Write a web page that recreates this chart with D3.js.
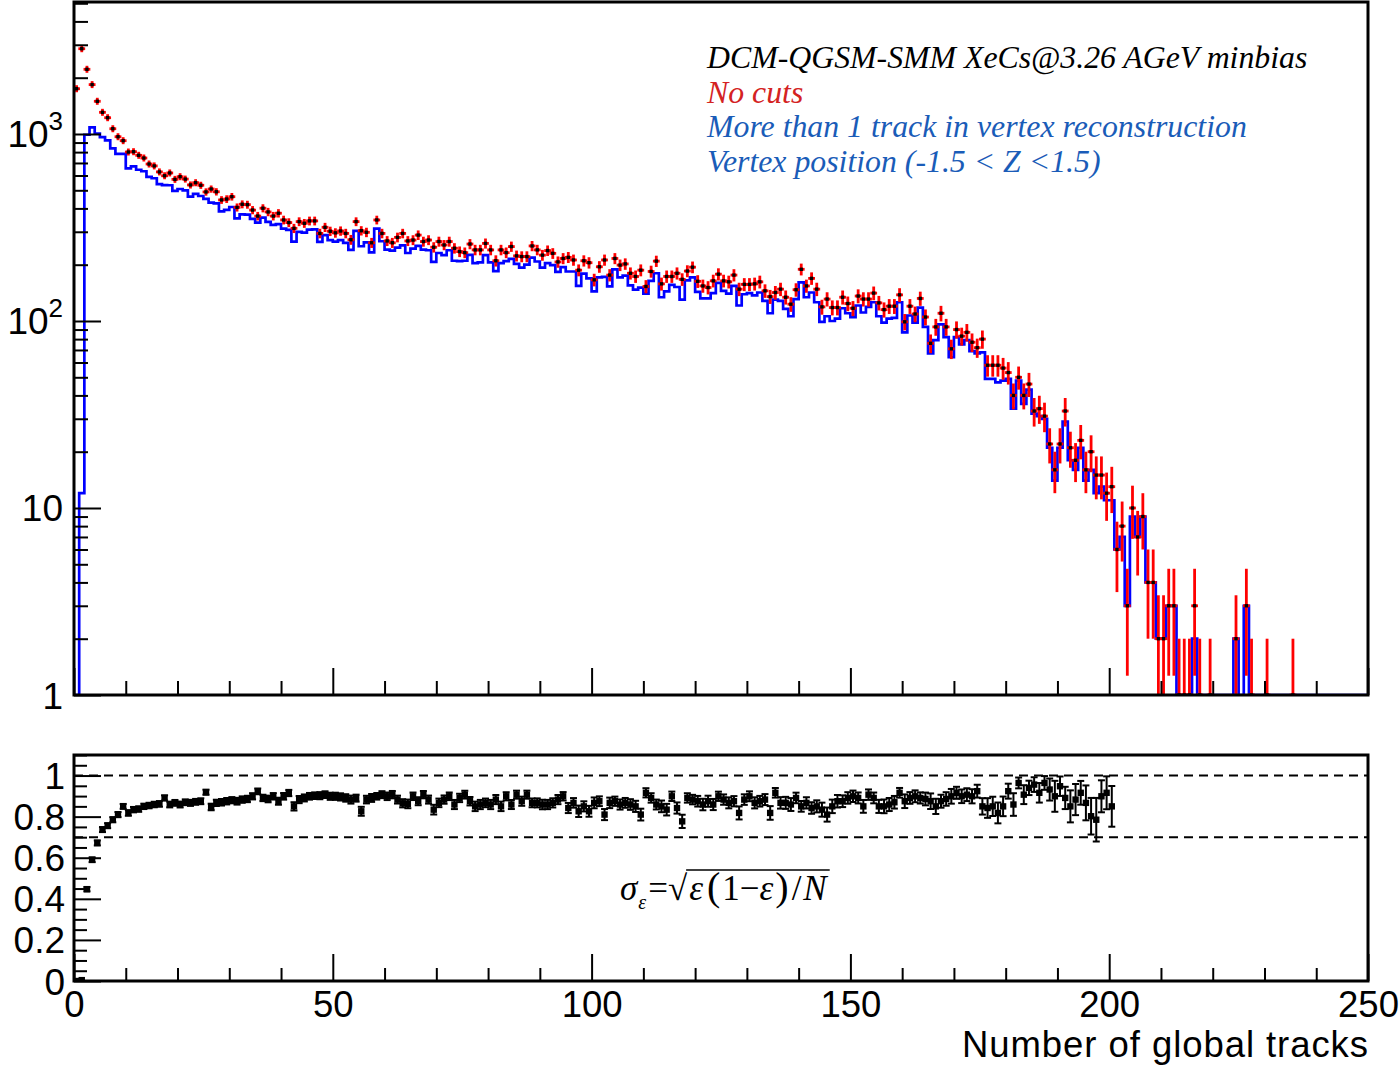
<!DOCTYPE html>
<html><head><meta charset="utf-8">
<script src="https://cdn.jsdelivr.net/npm/d3@7"></script>
<style>body{margin:0;background:#fff}svg{display:block}</style>
</head><body>
<svg id="c" width="1399" height="1066"></svg>
<script>
// ---------------- data (bins of width 1 starting at 0) ----------------
const xTickValues = [0, 50, 100, 150, 200, 250];
const xTickLabels = ["0", "50", "100", "150", "200", "250"];
const yTopMajor = [1, 10, 100, 1000];
const yTopLabels = [["1", ""], ["10", ""], ["10", "2"], ["10", "3"]];
const yBotMajor = [0, 0.2, 0.4, 0.6, 0.8, 1];
const yBotLabels = ["0", "0.2", "0.4", "0.6", "0.8", "1"];

// "No cuts" entries per bin (red points)
const noCuts = [
 1746,2858,2218,1837,1496,1306,1222,1067,967,921,
 801,804,769,744,691,675,627,598,619,572,
 591,574,534,549,532,490,508,491,444,449,
 462,405,421,419,392,364,401,383,364,377,
 347,336,313,340,333,343,343,294,317,302,
 296,303,294,272,340,304,298,262,347,294,
 268,262,280,294,268,271,288,266,271,248,
 266,255,266,245,235,232,258,240,240,260,
 240,210,240,232,250,223,221,221,252,240,
 225,238,230,207,216,219,212,187,210,205,
 166,195,212,176,216,199,202,180,173,187,
 153,184,209,158,173,173,180,167,185,194,
 163,154,151,164,178,164,162,176,148,157,
 157,158,162,145,135,142,148,134,123,147,
 189,154,169,148,119,131,118,118,134,124,
 117,136,131,131,141,125,115,120,120,138,
 99,120,109,132,105,76,93,110,93,71,
 90,83,87,77,72,80,58,58,58,56,
 53,40,50,40,46,33,34,31,22,16,
 22,33,21,18,23,16,20,15,15,12,
 13,6,8,3,10,7,9,4,4,2,
 2,3,3,1,1,1,3,1,0,1,
 0,0,0,0,2,0,3,1,0,0,
 1,0,0,0,0,1,0,0,0,0,
 0,0,0,0,0,0,0,0,0,0
];

// efficiency (lower panel) for bins 0..200
const efficiency = [
 0,0.0042,0.447,0.590,0.672,0.737,0.756,0.785,0.810,0.850,
 0.818,0.834,0.837,0.850,0.854,0.859,0.862,0.891,0.859,0.867,
 0.859,0.870,0.867,0.872,0.875,0.919,0.847,0.867,0.870,0.875,
 0.880,0.875,0.883,0.886,0.899,0.923,0.891,0.886,0.899,0.875,
 0.899,0.915,0.850,0.883,0.891,0.899,0.902,0.902,0.907,0.899,
 0.899,0.896,0.891,0.883,0.890,0.826,0.883,0.891,0.899,0.907,
 0.899,0.907,0.883,0.865,0.862,0.899,0.875,0.907,0.883,0.834,
 0.867,0.883,0.899,0.859,0.891,0.907,0.875,0.850,0.859,0.867,
 0.859,0.883,0.850,0.899,0.859,0.907,0.875,0.907,0.867,0.867,
 0.859,0.859,0.867,0.883,0.899,0.842,0.867,0.826,0.850,0.826,
 0.867,0.875,0.810,0.867,0.875,0.859,0.867,0.859,0.850,0.810,
 0.916,0.891,0.859,0.850,0.834,0.899,0.842,0.777,0.891,0.883,
 0.875,0.859,0.875,0.859,0.899,0.883,0.867,0.875,0.818,0.883,
 0.899,0.867,0.875,0.883,0.818,0.916,0.867,0.867,0.859,0.891,
 0.850,0.867,0.842,0.850,0.834,0.810,0.850,0.875,0.875,0.891,
 0.899,0.891,0.850,0.907,0.891,0.850,0.850,0.859,0.870,0.916,
 0.875,0.891,0.899,0.891,0.886,0.875,0.850,0.875,0.886,0.899,
 0.916,0.899,0.907,0.899,0.924,0.850,0.842,0.850,0.818,0.850,
 0.924,0.859,0.964,0.907,0.940,0.956,0.916,0.964,0.932,0.899,
 0.948,0.891,0.850,0.883,0.916,0.867,0.802,0.785,0.899,0.916,
 0.850
];

// events passing the cuts for bins 201..249 (blue histogram tail)
const passedTail = [
 6,7,3,9,7,9,4,4,2,2,
 3,3,0,0,0,2,0,0,0,0,
 0,0,0,2,0,3,0,0,0,0,
 0,0,0,0,0,0,0,0,0,0,
 0,0,0,0,0,0,0,0,0
];

const legendLines = [
 {text: "DCM-QGSM-SMM XeCs@3.26 AGeV minbias", color: "#000000"},
 {text: "No cuts", color: "#d42222"},
 {text: "More than 1 track in vertex reconstruction", color: "#1a5cb8"},
 {text: "Vertex position (-1.5 < Z <1.5)", color: "#1a5cb8"}
];

// ---------------- derived ----------------
const nBins = noCuts.length;
const passed = noCuts.map((n, k) => k <= 200 ? Math.round(n * efficiency[k]) : passedTail[k - 201]);

// ---------------- drawing ----------------
const svg = d3.select("#c");
const SANS = "'Liberation Sans', Arial, Helvetica, sans-serif";
const SERIF = "'Liberation Serif', 'Times New Roman', serif";

const x = d3.scaleLinear().domain([0, 250]).range([74, 1368]);
const yT = d3.scaleLog().domain([1, 5080]).range([695, 2]);
const yB = d3.scaleLinear().domain([0, 1.1]).range([981, 755]);
const yT0 = yT.range()[0];

const defs = svg.append("defs");
defs.append("clipPath").attr("id", "clipT").append("rect")
  .attr("x", x(0)).attr("y", yT.range()[1]).attr("width", x(250) - x(0)).attr("height", yT0 - yT.range()[1]);
defs.append("clipPath").attr("id", "clipB").append("rect")
  .attr("x", x(0)).attr("y", yB.range()[1]).attr("width", x(250) - x(0)).attr("height", yB.range()[0] - yB.range()[1]);

// ---- top panel: blue histogram ----
const gT = svg.append("g").attr("clip-path", "url(#clipT)");
const stepPts = [[0, 0]];
for (let k = 0; k < nBins; k++) stepPts.push([k, passed[k]]);
stepPts.push([nBins, passed[nBins - 1]]);
stepPts.push([nBins, 0]);
const yv = v => v > 0 ? yT(v) : yT0;
gT.append("path")
  .attr("d", d3.line().x(d => x(d[0])).y(d => yv(d[1])).curve(d3.curveStepAfter)(stepPts))
  .attr("fill", "none").attr("stroke", "#0000ff").attr("stroke-width", 2.7);

// ---- top panel: red points ----
const redData = noCuts.map((n, k) => ({k, n})).filter(d => d.n > 0);
const rp = gT.append("g");
rp.selectAll("line.ev").data(redData).enter().append("line")
  .attr("x1", d => x(d.k + 0.5)).attr("x2", d => x(d.k + 0.5))
  .attr("y1", d => Math.min(yT(d.n + Math.sqrt(d.n)), yT(d.n) - 3.5))
  .attr("y2", d => (d.n - Math.sqrt(d.n)) > 0 ? Math.max(yT(d.n - Math.sqrt(d.n)), yT(d.n) + 3.5) : yT0 + 2)
  .attr("stroke", "#ff0000").attr("stroke-width", 2.8);
rp.selectAll("line.eh").data(redData).enter().append("line")
  .attr("x1", d => x(d.k + 0.5) - 3.4).attr("x2", d => x(d.k + 0.5) + 3.4)
  .attr("y1", d => yT(d.n)).attr("y2", d => yT(d.n))
  .attr("stroke", "#ff0000").attr("stroke-width", 2.8);
rp.selectAll("rect").data(redData).enter().append("rect")
  .attr("x", d => x(d.k + 0.5) - 1.7).attr("y", d => yT(d.n) - 1.7)
  .attr("width", 3.4).attr("height", 3.4).attr("fill", "#000");

// ---- top panel: axes ----
function styleAxis(g) {
  g.select(".domain").remove();
  g.selectAll(".tick line").attr("stroke", "#000").attr("stroke-width", 2);
}
const topMinor = [];
[1, 10, 100, 1000].forEach(d => { for (let m = 2; m <= 9; m++) if (d * m < 5080) topMinor.push(d * m); });
svg.append("g").attr("transform", `translate(${x(0)},0)`)
  .call(d3.axisLeft(yT).tickValues(yTopMajor).tickSizeInner(-27).tickSizeOuter(0).tickFormat(""))
  .call(styleAxis);
svg.append("g").attr("transform", `translate(${x(0)},0)`)
  .call(d3.axisLeft(yT).tickValues(topMinor).tickSizeInner(-14).tickSizeOuter(0).tickFormat(""))
  .call(styleAxis);

const xMinor = d3.range(0, 251, 10).filter(v => v % 50 !== 0);
svg.append("g").attr("transform", `translate(0,${yT0})`)
  .call(d3.axisTop(x).tickValues(xTickValues).tickSizeInner(27).tickSizeOuter(0).tickFormat(""))
  .call(styleAxis);
svg.append("g").attr("transform", `translate(0,${yT0})`)
  .call(d3.axisTop(x).tickValues(xMinor).tickSizeInner(14).tickSizeOuter(0).tickFormat(""))
  .call(styleAxis);

// y labels (top)
yTopMajor.forEach((v, i) => {
  const t = svg.append("text").attr("x", 63).attr("y", yT(v) + 13.5)
    .attr("text-anchor", "end").attr("font-family", SANS).attr("font-size", 37).attr("fill", "#000");
  t.append("tspan").text(yTopLabels[i][0]);
  if (yTopLabels[i][1]) t.append("tspan").attr("dy", -17).attr("font-size", 26).text(yTopLabels[i][1]);
});

// frame top
svg.append("rect").attr("x", x(0)).attr("y", yT.range()[1]).attr("width", x(250) - x(0))
  .attr("height", yT0 - yT.range()[1]).attr("fill", "none").attr("stroke", "#000").attr("stroke-width", 3);

// legend
legendLines.forEach((l, i) => {
  svg.append("text").attr("x", 707).attr("y", 68 + i * 34.7)
    .attr("font-family", SERIF).attr("font-style", "italic").attr("font-size", 31.8)
    .attr("fill", l.color).text(l.text);
});

// ---- bottom panel ----
const gB = svg.append("g").attr("clip-path", "url(#clipB)");
[1, 0.7].forEach(v => {
  gB.append("line").attr("x1", x(0)).attr("x2", x(250)).attr("y1", yB(v)).attr("y2", yB(v))
    .attr("stroke", "#000").attr("stroke-width", 2).attr("stroke-dasharray", "9,6");
});
const effData = efficiency.map((e, k) => {
  const n = noCuts[k];
  const err = n > 0 ? Math.sqrt(e * (1 - e) / n) : 0;
  return {k, e, err};
});
const ep = gB.append("g");
ep.selectAll("line.v").data(effData.filter(d => d.err > 0)).enter().append("line")
  .attr("x1", d => x(d.k + 0.5)).attr("x2", d => x(d.k + 0.5))
  .attr("y1", d => yB(d.e - d.err)).attr("y2", d => yB(d.e + d.err))
  .attr("stroke", "#000").attr("stroke-width", 2);
["lo", "hi"].forEach(side => {
  ep.selectAll("line.c" + side).data(effData.filter(d => d.err > 0.01)).enter().append("line")
    .attr("x1", d => x(d.k + 0.5) - 3.5).attr("x2", d => x(d.k + 0.5) + 3.5)
    .attr("y1", d => yB(side === "lo" ? d.e - d.err : d.e + d.err))
    .attr("y2", d => yB(side === "lo" ? d.e - d.err : d.e + d.err))
    .attr("stroke", "#000").attr("stroke-width", 2);
});
ep.selectAll("rect").data(effData).enter().append("rect")
  .attr("x", d => x(d.k + 0.5) - 3.2).attr("y", d => yB(d.e) - 3.2)
  .attr("width", 6.4).attr("height", 6.4).attr("fill", "#000");

// bottom axes
const bMinor = d3.range(0, 1.1001, 0.05).map(v => +v.toFixed(2)).filter(v => Math.abs(v * 5 - Math.round(v * 5)) > 1e-6);
svg.append("g").attr("transform", `translate(${x(0)},0)`)
  .call(d3.axisLeft(yB).tickValues(yBotMajor).tickSizeInner(-27).tickSizeOuter(0).tickFormat(""))
  .call(styleAxis);
svg.append("g").attr("transform", `translate(${x(0)},0)`)
  .call(d3.axisLeft(yB).tickValues(bMinor).tickSizeInner(-13).tickSizeOuter(0).tickFormat(""))
  .call(styleAxis);
yBotMajor.forEach((v, i) => {
  svg.append("text").attr("x", 65).attr("y", yB(v) + 13.5).attr("text-anchor", "end")
    .attr("font-family", SANS).attr("font-size", 37).attr("fill", "#000").text(yBotLabels[i]);
});
svg.append("g").attr("transform", `translate(0,${yB.range()[0]})`)
  .call(d3.axisBottom(x).tickValues(xTickValues).tickSizeInner(-27).tickSizeOuter(0).tickPadding(10)
    .tickFormat((d, i) => xTickLabels[i]))
  .call(styleAxis)
  .call(g => g.selectAll("text").attr("font-family", SANS).attr("font-size", 36.5).attr("fill", "#000"));
svg.append("g").attr("transform", `translate(0,${yB.range()[0]})`)
  .call(d3.axisBottom(x).tickValues(xMinor).tickSizeInner(-13).tickSizeOuter(0).tickFormat(""))
  .call(styleAxis);
svg.append("text").attr("x", x(250)).attr("y", 1057).attr("text-anchor", "end")
  .attr("font-family", SANS).attr("font-size", 36.5).attr("fill", "#000")
  .attr("textLength", 406).attr("lengthAdjust", "spacing").text("Number of global tracks");

svg.append("rect").attr("x", x(0)).attr("y", yB.range()[1]).attr("width", x(250) - x(0))
  .attr("height", yB.range()[0] - yB.range()[1]).attr("fill", "none").attr("stroke", "#000").attr("stroke-width", 3);

// formula
const f = svg.append("text").attr("x", 620).attr("y", 900).attr("font-family", SERIF).attr("font-size", 35).attr("fill", "#000");
f.append("tspan").attr("font-style", "italic").text("σ");
f.append("tspan").attr("font-style", "italic").attr("font-size", 20).attr("dy", 9).attr("dx", 1).text("ε");
f.append("tspan").attr("dy", -9).attr("dx", 2).text("=");
f.append("tspan").text("√");
const rad = f.append("tspan").attr("dx", 2);
rad.append("tspan").attr("font-style", "italic").text("ε");
rad.append("tspan").attr("font-size", 40).attr("dx", 4).text("(");
rad.append("tspan").attr("dx", 2).text("1−");
rad.append("tspan").attr("font-style", "italic").text("ε");
rad.append("tspan").attr("font-size", 40).attr("dx", 2).text(")");
rad.append("tspan").attr("dx", 3).text("/");
rad.append("tspan").attr("font-style", "italic").attr("dx", 2).text("N");
const fNode = f.node();
const fullText = fNode.textContent;
const sqrtIdx = fullText.indexOf("√");
const x0 = fNode.getEndPositionOfChar(sqrtIdx).x;
const x1 = fNode.getEndPositionOfChar(fullText.length - 1).x;
svg.append("line").attr("x1", x0 - 1).attr("x2", x1 + 3).attr("y1", 870).attr("y2", 870)
  .attr("stroke", "#000").attr("stroke-width", 1.6);
</script>
</body></html>
